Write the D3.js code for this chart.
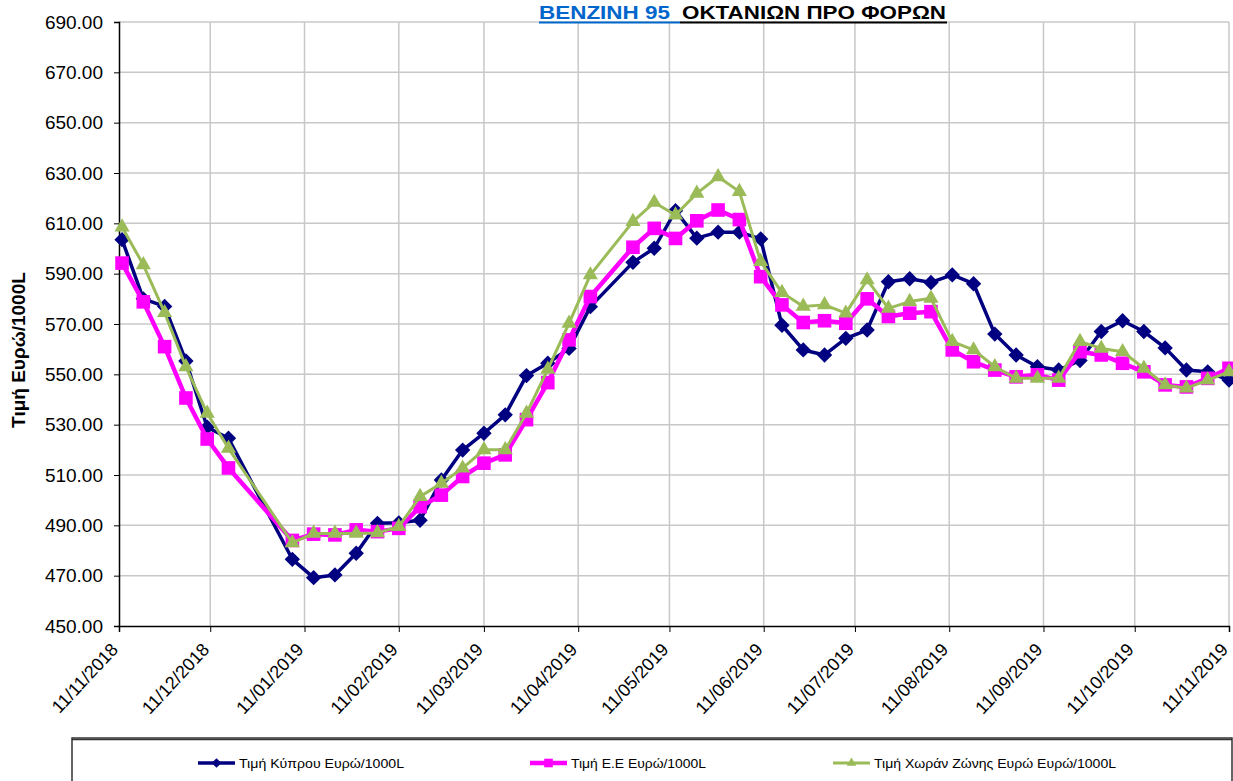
<!DOCTYPE html>
<html>
<head>
<meta charset="utf-8">
<script src="https://cdn.jsdelivr.net/npm/d3@7"></script>
<style>
body{margin:0;background:#fff;}
text{font-family:"Liberation Sans",Arial,sans-serif;}
</style>
</head>
<body>
<div id="container"></div>
<script>
// weekly prices, euro per 1000L
var dates = ["12/11/2018","19/11/2018","26/11/2018","03/12/2018","10/12/2018","17/12/2018",
"07/01/2019","14/01/2019","21/01/2019","28/01/2019","04/02/2019","11/02/2019","18/02/2019","25/02/2019",
"04/03/2019","11/03/2019","18/03/2019","25/03/2019","01/04/2019","08/04/2019","15/04/2019",
"29/04/2019","06/05/2019","13/05/2019","20/05/2019","27/05/2019","03/06/2019","10/06/2019","17/06/2019","24/06/2019",
"01/07/2019","08/07/2019","15/07/2019","22/07/2019","29/07/2019","05/08/2019","12/08/2019","19/08/2019","26/08/2019",
"02/09/2019","09/09/2019","16/09/2019","23/09/2019","30/09/2019","07/10/2019","14/10/2019","21/10/2019","28/10/2019",
"04/11/2019","11/11/2019"]

var cyprus = [603.5,580,577,555.3,529,524.6,
476.5,469.2,470.3,478.9,490.8,491,492,508,
519.9,526.6,533.9,549.5,554.4,560.3,576.9,
594.5,600.1,615,604.1,606.5,606.5,603.8,569.5,559.7,
557.7,564.3,567.6,586.8,588,586.5,589.5,586,566,
557.7,553,551.7,555.5,567,571.3,567,560.5,551.7,
551,547.7]

var eu = [594.2,578.8,561,540.6,524.3,512.8,
484,486.5,486.2,488.2,487.5,488.8,497.4,502,
509.4,514.7,518,532,546.7,563.7,580.9,
600.5,608,604,611,615.3,611.5,588.8,577.6,570.6,
571.3,570.3,580,573,574.3,574.9,559.7,555,551.7,
549,549.8,547.7,559,557.7,554.4,551,545.8,545,
548.4,552.4]

var zone = [608.5,593.5,574.5,553,534.5,520.6,
483,486.8,486.8,486.8,487,489.5,501.4,506.7,
512.7,520,520,534.5,552,570.3,589.5,
610.7,618.3,613.3,621.9,628.5,622.6,594.8,582.5,577,
577.6,574.3,587.5,576.2,578.9,580.2,563,559.7,553,
548.4,548.4,548.4,563,560.3,559,552.4,545.8,544.5,
547.7,551]

var xTicks = ["11/11/2018","11/12/2018","11/01/2019","11/02/2019","11/03/2019","11/04/2019","11/05/2019",
"11/06/2019","11/07/2019","11/08/2019","11/09/2019","11/10/2019","11/11/2019"]
var yTicks = [450,470,490,510,530,550,570,590,610,630,650,670,690]
var seriesNames = ["Τιμή Κύπρου Ευρώ/1000L","Τιμή Ε.Ε Ευρώ/1000L","Τιμή Χωράν Ζώνης Ευρώ Ευρώ/1000L"]
var colors = ["#000080","#ff00ff","#9bbb59"]

var parse = d3.timeParse("%d/%m/%Y")

var svg = d3.select("#container").append("svg").attr("width",1233).attr("height",781)

var xScale = d3.scaleTime().domain([parse(xTicks[0]),parse(xTicks[xTicks.length-1])]).range([119,1229])
var yScale = d3.scaleLinear().domain([450,690]).range([626,22])

// grid
svg.selectAll(".hgrid").data(yTicks.slice(1)).enter().append("line")
    .attr("x1",119).attr("x2",1229)
    .attr("y1",function(d){return yScale(d)}).attr("y2",function(d){return yScale(d)})
    .attr("stroke","#c8c8c8").attr("stroke-width",1.5)
svg.selectAll(".vgrid").data(xTicks.slice(1)).enter().append("line")
    .attr("x1",function(d){return xScale(parse(d))}).attr("x2",function(d){return xScale(parse(d))})
    .attr("y1",22).attr("y2",626)
    .attr("stroke","#c8c8c8").attr("stroke-width",1.5)

// axes
var yAxis = svg.append("g").attr("transform","translate(119,0)")
    .call(d3.axisLeft(yScale).tickValues(yTicks).tickSize(5).tickFormat(d3.format(".2f")))
yAxis.select(".domain").attr("stroke","#000").attr("stroke-width",1.5)
yAxis.selectAll("text").attr("font-size","19px").attr("fill","#000").attr("x",-16)
    .style("font-family","'Liberation Sans',Arial,sans-serif")

var xAxis = svg.append("g").attr("transform","translate(0,626)")
    .call(d3.axisBottom(xScale).tickValues(xTicks.map(parse)).tickSize(6).tickFormat(d3.timeFormat("%d/%m/%Y")))
xAxis.select(".domain").attr("stroke","#000").attr("stroke-width",1.5)
xAxis.selectAll("text").attr("font-size","18px").attr("fill","#000")
    .style("font-family","'Liberation Sans',Arial,sans-serif")
    .attr("text-anchor","end").attr("dy","0.35em").attr("y",0)
    .attr("transform","translate(-5,20) rotate(-47)")

svg.append("text").attr("transform","translate(25,350) rotate(-90)")
    .attr("text-anchor","middle").attr("font-size","19px").attr("font-weight","bold")
    .text("Τιμή Ευρώ/1000L")

// lines and markers
var allSeries = [cyprus,eu,zone]
var line = d3.line().x(function(d){return xScale(parse(d.date))}).y(function(d){return yScale(d.v)})
var symbols = [d3.symbolSquare,d3.symbolSquare,d3.symbolTriangle]
var symSizes = [118,185,100]
var rotations = [45,0,0]
var widths = [3.5,4.5,3]

allSeries.forEach(function(s,k){
    var pts = s.map(function(v,i){return {date:dates[i],v:v}})
    svg.append("path").attr("d",line(pts)).attr("fill","none")
        .attr("stroke",colors[k]).attr("stroke-width",widths[k]).attr("stroke-linejoin","round")
    svg.selectAll(".m"+k).data(pts).enter().append("path")
        .attr("class","m"+k)
        .attr("d",d3.symbol().type(symbols[k]).size(symSizes[k]))
        .attr("transform",function(d){
            return "translate("+xScale(parse(d.date))+","+yScale(d.v)+") rotate("+rotations[k]+")"})
        .attr("fill",colors[k])
})

// title
svg.append("text").attr("x",539).attr("y",19).attr("font-size","19px").attr("font-weight","bold")
    .attr("fill","#0066cc").attr("textLength",131).attr("lengthAdjust","spacingAndGlyphs").text("BENZINH 95")
svg.append("text").attr("x",682).attr("y",19).attr("font-size","19px").attr("font-weight","bold")
    .attr("fill","#000").attr("textLength",264).attr("lengthAdjust","spacingAndGlyphs").text("ΟΚΤΑΝΙΩΝ ΠΡΟ ΦΟΡΩΝ")
svg.append("line").attr("x1",539).attr("x2",680).attr("y1",22.5).attr("y2",22.5).attr("stroke","#0066cc").attr("stroke-width",2)
svg.append("line").attr("x1",680).attr("x2",947).attr("y1",22.5).attr("y2",22.5).attr("stroke","#000").attr("stroke-width",2)

// legend
svg.append("rect").attr("x",72).attr("y",738).attr("width",1160).attr("height",60)
    .attr("fill","#fff").attr("stroke","#333").attr("stroke-width",1.5)
svg.append("line").attr("x1",72).attr("x2",1232).attr("y1",739.5).attr("y2",739.5).attr("stroke","#333").attr("stroke-width",1.5)
var legX = [198,530,833]
var legW = [165,135,242]
seriesNames.forEach(function(n,k){
    var g = svg.append("g").attr("transform","translate("+legX[k]+",763)")
    g.append("line").attr("x1",0).attr("x2",37).attr("stroke",colors[k]).attr("stroke-width",widths[k])
    g.append("path").attr("d",d3.symbol().type(symbols[k]).size(symSizes[k]*0.4))
        .attr("transform","translate(18.5,0) rotate("+rotations[k]+")").attr("fill",colors[k])
    g.append("text").attr("x",41).attr("y",4.5).attr("font-size","12.5px")
        .attr("textLength",legW[k]).attr("lengthAdjust","spacingAndGlyphs").text(n)
})
</script>
</body>
</html>
